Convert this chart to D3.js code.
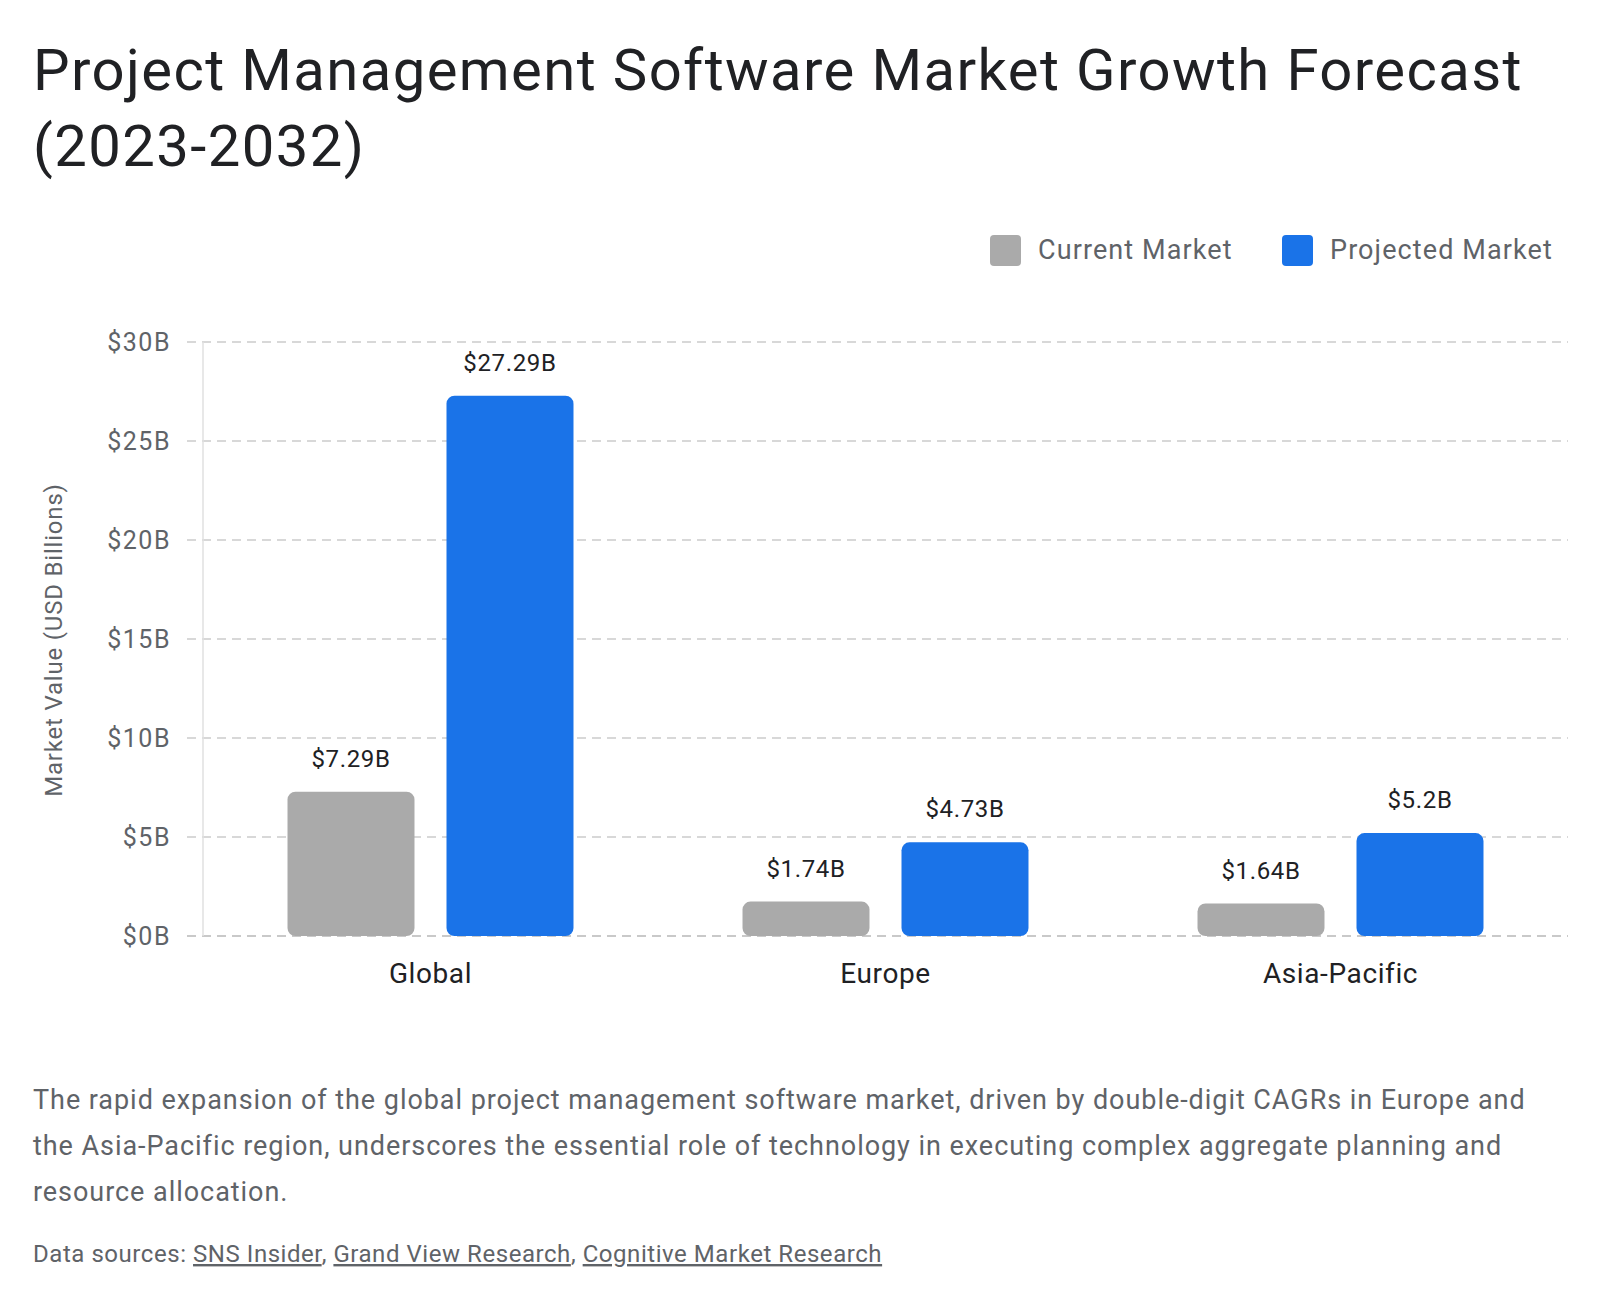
<!DOCTYPE html>
<html>
<head>
<meta charset="utf-8">
<script src="https://cdn.jsdelivr.net/npm/d3@7"></script>
<style>
  body { margin: 0; background: #fff; }
  svg text { font-family: Roboto, "Noto Sans", sans-serif; }
</style>
</head>
<body>
<script>
var width = 1600,
  height = 1302;

// data
var regions = ["Global", "Europe", "Asia-Pacific"];
var series = ["Current Market", "Projected Market"];
var currentValues = [7.29, 1.74, 1.64];
var projectedValues = [27.29, 4.73, 5.2];
var yTicks = [0, 5, 10, 15, 20, 25, 30];
var colors = ["#aaaaaa", "#1a73e8"];

var titleLines = ["Project Management Software Market Growth Forecast", "(2023-2032)"];
var noteLines = [
  "The rapid expansion of the global project management software market, driven by double-digit CAGRs in Europe and",
  "the Asia-Pacific region, underscores the essential role of technology in executing complex aggregate planning and",
  "resource allocation."
];
var sources = ["SNS Insider", "Grand View Research", "Cognitive Market Research"];

var svg = d3.select("body").append("svg")
  .attr("width", width)
  .attr("height", height);

// title
svg.append("g").selectAll("text")
  .data(titleLines)
  .enter().append("text")
  .attr("x", 33)
  .attr("y", function (d, i) { return 90 + i * 76; })
  .attr("font-size", 58)
  .attr("letter-spacing", 1.4)
  .attr("fill", "#202124")
  .text(function (d) { return d; });

// legend
var legend = svg.append("g").attr("transform", "translate(990,235)");
var legendX = [0, 292];
series.forEach(function (s, i) {
  legend.append("rect")
    .attr("x", legendX[i]).attr("y", 0)
    .attr("width", 31).attr("height", 31)
    .attr("rx", 4)
    .attr("fill", colors[i]);
  legend.append("text")
    .attr("x", legendX[i] + 48).attr("y", 24)
    .attr("font-size", 27)
    .attr("letter-spacing", 1.1)
    .attr("fill", "#5f6368")
    .text(s);
});

// scales
var y = d3.scaleLinear().domain([0, 30]).range([936, 342]);
var x0 = d3.scaleBand().domain(regions).range([203, 1568]);
var x1 = d3.scaleBand().domain(series).range([0, x0.bandwidth()])
  .paddingInner(0.2013).paddingOuter(0.5315);

// grid
svg.append("g").selectAll("line")
  .data(yTicks)
  .enter().append("line")
  .attr("x1", 187).attr("x2", 1568)
  .attr("y1", function (d) { return y(d); })
  .attr("y2", function (d) { return y(d); })
  .attr("stroke", function (d) { return d === 0 ? "#b8b8b8" : "#cccccc"; })
  .attr("stroke-width", 1.5)
  .attr("stroke-dasharray", "9,6");

svg.append("line")
  .attr("x1", 203).attr("x2", 203)
  .attr("y1", y(30)).attr("y2", y(0))
  .attr("stroke", "#e0e0e0").attr("stroke-width", 1.5);

// y axis labels
var yAxis = d3.axisLeft(y).tickValues(yTicks).tickSize(0).tickPadding(0)
  .tickFormat(function (d) { return "$" + d + "B"; });
var gy = svg.append("g").attr("transform", "translate(171,0)").call(yAxis);
gy.select(".domain").remove();
gy.selectAll("text")
  .attr("font-size", 25)
  .attr("letter-spacing", 1.5)
  .attr("fill", "#5f6368")
  .attr("dy", "0.35em")
  .style("font-family", "Roboto, sans-serif");

svg.append("text")
  .attr("transform", "translate(62,640) rotate(-90)")
  .attr("text-anchor", "middle")
  .attr("font-size", 24)
  .attr("letter-spacing", 0.8)
  .attr("fill", "#5f6368")
  .text("Market Value (USD Billions)");

// x axis labels
var xAxis = d3.axisBottom(x0).tickSize(0).tickPadding(0);
var gx = svg.append("g").attr("transform", "translate(0,983)").call(xAxis);
gx.select(".domain").remove();
gx.selectAll("text")
  .attr("font-size", 28)
  .attr("letter-spacing", 0.6)
  .attr("fill", "#202124")
  .attr("dy", 0)
  .style("font-family", "Roboto, sans-serif");

// bars
var rows = regions.map(function (r, i) {
  return { region: r, values: [
    { key: series[0], value: currentValues[i] },
    { key: series[1], value: projectedValues[i] }
  ] };
});

var groups = svg.append("g").selectAll("g")
  .data(rows)
  .enter().append("g")
  .attr("transform", function (d) { return "translate(" + x0(d.region) + ",0)"; });

groups.selectAll("rect")
  .data(function (d) { return d.values; })
  .enter().append("rect")
  .attr("x", function (d) { return x1(d.key); })
  .attr("y", function (d) { return y(d.value); })
  .attr("width", x1.bandwidth())
  .attr("height", function (d) { return y(0) - y(d.value); })
  .attr("rx", 8)
  .attr("fill", function (d, i) { return colors[i]; });

groups.selectAll("text")
  .data(function (d) { return d.values; })
  .enter().append("text")
  .attr("x", function (d) { return x1(d.key) + x1.bandwidth() / 2; })
  .attr("y", function (d) { return y(d.value) - 25; })
  .attr("text-anchor", "middle")
  .attr("font-size", 24)
  .attr("letter-spacing", 0.65)
  .attr("fill", "#202124")
  .text(function (d) { return "$" + d.value + "B"; });

// note
svg.append("g").selectAll("text")
  .data(noteLines)
  .enter().append("text")
  .attr("x", 33)
  .attr("y", function (d, i) { return 1109 + i * 46; })
  .attr("font-size", 27)
  .attr("letter-spacing", 0.95)
  .attr("fill", "#5f6368")
  .text(function (d) { return d; });

// sources
var src = svg.append("text")
  .attr("x", 33).attr("y", 1262)
  .attr("font-size", 24)
  .attr("letter-spacing", 0.55)
  .attr("fill", "#5f6368");
src.append("tspan").text("Data sources: ");
sources.forEach(function (s, i) {
  src.append("tspan").style("text-decoration", "underline").text(s);
  if (i < sources.length - 1) src.append("tspan").text(", ");
});
</script>
</body>
</html>
